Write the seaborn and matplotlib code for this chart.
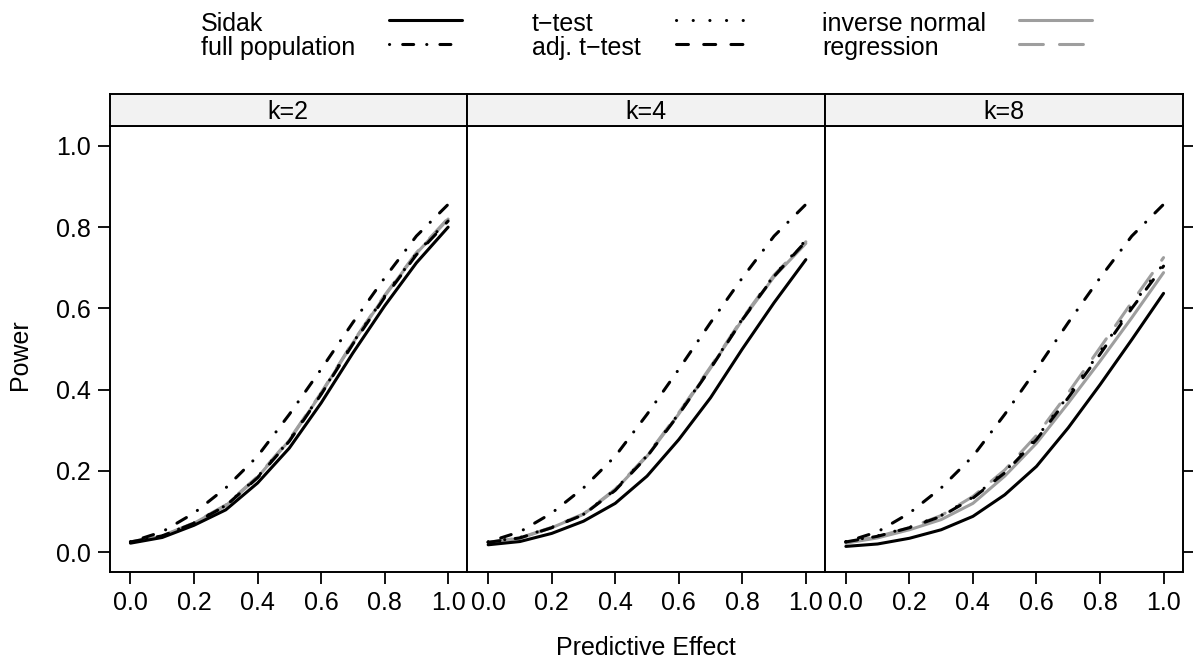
import matplotlib

matplotlib.use("Agg")

import matplotlib.pyplot as plt
import numpy as np
import pandas as pd
import seaborn as sns
from matplotlib.lines import Line2D

# ---- data ------------------------------------------------------------------
EFFECT = [0.0, 0.1, 0.2, 0.3, 0.4, 0.5, 0.6, 0.7, 0.8, 0.9, 1.0]
K_VALUES = [2, 4, 8]

FULL_POP = [0.025, 0.050, 0.096, 0.158, 0.236, 0.339, 0.450, 0.565, 0.675, 0.778, 0.856]

SIDAK_K2 = [0.022, 0.036, 0.066, 0.104, 0.170, 0.256, 0.367, 0.490, 0.606, 0.712, 0.800]
TTEST_K2 = [0.025, 0.040, 0.072, 0.115, 0.185, 0.275, 0.390, 0.515, 0.630, 0.735, 0.818]
ADJ_K2 = [0.025, 0.040, 0.071, 0.114, 0.183, 0.273, 0.388, 0.512, 0.627, 0.732, 0.815]
INVN_K2 = [0.024, 0.039, 0.071, 0.114, 0.184, 0.275, 0.390, 0.515, 0.630, 0.735, 0.820]
REG_K2 = [0.025, 0.040, 0.072, 0.116, 0.186, 0.277, 0.392, 0.517, 0.632, 0.737, 0.822]

SIDAK_K4 = [0.018, 0.026, 0.046, 0.076, 0.120, 0.187, 0.277, 0.380, 0.500, 0.614, 0.720]
TTEST_K4 = [0.025, 0.036, 0.061, 0.093, 0.154, 0.237, 0.341, 0.454, 0.574, 0.681, 0.768]
ADJ_K4 = [0.024, 0.035, 0.060, 0.092, 0.152, 0.235, 0.339, 0.452, 0.572, 0.679, 0.765]
INVN_K4 = [0.023, 0.034, 0.060, 0.093, 0.153, 0.236, 0.340, 0.453, 0.572, 0.678, 0.760]
REG_K4 = [0.024, 0.035, 0.061, 0.094, 0.155, 0.238, 0.343, 0.456, 0.575, 0.682, 0.764]

SIDAK_K8 = [0.014, 0.020, 0.034, 0.055, 0.088, 0.141, 0.211, 0.306, 0.412, 0.523, 0.637]
TTEST_K8 = [0.026, 0.040, 0.061, 0.090, 0.135, 0.198, 0.281, 0.385, 0.493, 0.606, 0.710]
ADJ_K8 = [0.025, 0.039, 0.060, 0.088, 0.133, 0.195, 0.277, 0.380, 0.487, 0.600, 0.704]
INVN_K8 = [0.022, 0.035, 0.055, 0.080, 0.120, 0.187, 0.268, 0.367, 0.470, 0.577, 0.688]
REG_K8 = [0.024, 0.038, 0.060, 0.090, 0.137, 0.202, 0.287, 0.392, 0.503, 0.615, 0.725]

SERIES = {
    2: {"Sidak": SIDAK_K2, "full population": FULL_POP, "t\u2212test": TTEST_K2,
        "adj. t\u2212test": ADJ_K2, "inverse normal": INVN_K2, "regression": REG_K2},
    4: {"Sidak": SIDAK_K4, "full population": FULL_POP, "t\u2212test": TTEST_K4,
        "adj. t\u2212test": ADJ_K4, "inverse normal": INVN_K4, "regression": REG_K4},
    8: {"Sidak": SIDAK_K8, "full population": FULL_POP, "t\u2212test": TTEST_K8,
        "adj. t\u2212test": ADJ_K8, "inverse normal": INVN_K8, "regression": REG_K8},
}

LEGEND_ORDER = ["Sidak", "full population", "t\u2212test", "adj. t\u2212test",
                "inverse normal", "regression"]
DRAW_ORDER = ["inverse normal", "regression", "Sidak", "full population",
              "t\u2212test", "adj. t\u2212test"]

GREY = "#9e9e9e"
COLORS = {"Sidak": "black", "full population": "black", "t\u2212test": "black",
          "adj. t\u2212test": "black", "inverse normal": GREY, "regression": GREY}
# dash patterns in points (no dash scaling, round caps like R)
DASHES = {"Sidak": "", "full population": (0.1, 9.4, 7.9, 9.4), "t\u2212test": (0.1, 11.9),
          "adj. t\u2212test": (8.6, 11.0), "inverse normal": "", "regression": (17.2, 11.6)}


def build_frame() -> pd.DataFrame:
    rows = []
    for k in K_VALUES:
        for method, values in SERIES[k].items():
            for x, y in zip(EFFECT, values):
                rows.append({"k": k, "method": method, "effect": x, "power": y})
    return pd.DataFrame(rows)


def main() -> None:
    sns.set_style("ticks")
    plt.rcParams["font.family"] = ["Liberation Sans", "DejaVu Sans"]
    plt.rcParams["lines.scale_dashes"] = False
    plt.rcParams["lines.dash_capstyle"] = "round"
    plt.rcParams["lines.solid_capstyle"] = "round"
    plt.rcParams["text.color"] = "black"
    plt.rcParams["xtick.color"] = "black"
    plt.rcParams["ytick.color"] = "black"
    fs = 18

    df = build_frame()
    W, H = 1193, 662
    fig = plt.figure(figsize=(W / 100, H / 100), dpi=100)

    left0, pw = 109.5, 357.7
    top_panel, bot_panel, top_strip = 126, 572, 94
    ticks = [0.0, 0.2, 0.4, 0.6, 0.8, 1.0]
    lw = 2.2

    for i, k in enumerate(K_VALUES):
        x0 = (left0 + i * pw) / W
        ax = fig.add_axes([x0, (H - bot_panel) / H, pw / W, (bot_panel - top_panel) / H])
        sax = fig.add_axes([x0, (H - top_panel) / H, pw / W, (top_panel - top_strip) / H])

        sns.lineplot(
            data=df[df["k"] == k],
            x="effect",
            y="power",
            hue="method",
            style="method",
            hue_order=DRAW_ORDER,
            style_order=DRAW_ORDER,
            palette=COLORS,
            dashes=DASHES,
            linewidth=lw,
            legend=False,
            ax=ax,
        )
        for line in ax.get_lines():
            line.set_dash_capstyle("round")
            line.set_solid_capstyle("round")
        ax.set_xlim(-0.066, 1.06)
        ax.set_ylim(-0.049, 1.049)
        ax.set_xticks(ticks)
        ax.set_xticklabels([f"{t:.1f}" for t in ticks], fontsize=fs)
        ax.set_yticks(ticks)
        ax.set_xlabel("")
        ax.set_ylabel("")
        ax.tick_params(axis="both", direction="out", length=8.6, width=1.3,
                       color="black", pad=5)
        if i == 0:
            ax.tick_params(axis="y", left=True, labelleft=True, right=False, labelsize=fs)
        elif i == 2:
            ax.tick_params(axis="y", left=False, labelleft=False, right=True, labelright=False)
        else:
            ax.tick_params(axis="y", left=False, labelleft=False)
        ax.set_yticklabels([f"{t:.1f}" for t in ticks])
        for sp in ax.spines.values():
            sp.set_visible(True)
            sp.set_linewidth(1.4)
            sp.set_color("black")

        sax.set_facecolor("#f2f2f2")
        sax.set_xticks([])
        sax.set_yticks([])
        for sp in sax.spines.values():
            sp.set_linewidth(1.4)
            sp.set_color("black")
        sax.text(0.5, 0.45, f"k={k}", ha="center", va="center", fontsize=fs,
                 transform=sax.transAxes)

    fig.text(646 / W, 1 - 648 / H, "Predictive Effect", ha="center", va="center", fontsize=fs)
    fig.text(20 / W, 1 - 355 / H, "Power", ha="center", va="center", rotation=90, fontsize=fs)

    # legend on top: text first, key line to its right (lattice style)
    text_x = [201, 532, 822]
    line_x = [(389, 462), (676, 746), (1019, 1092)]
    text_y = [31, 55]
    line_y = [20, 44]
    for idx, method in enumerate(LEGEND_ORDER):
        col, row = divmod(idx, 2)
        fig.text(text_x[col] / W, 1 - text_y[row] / H, method, ha="left",
                 va="baseline", fontsize=fs)
        xs = [line_x[col][0] / W, line_x[col][1] / W]
        ys = [1 - line_y[row] / H] * 2
        key = Line2D(xs, ys, transform=fig.transFigure, color=COLORS[method],
                     linewidth=lw, dash_capstyle="round", solid_capstyle="round")
        if DASHES[method]:
            key.set_dashes(DASHES[method])
        fig.add_artist(key)

    fig.savefig("out.png", dpi=100)
    plt.close(fig)


if __name__ == "__main__":
    main()
